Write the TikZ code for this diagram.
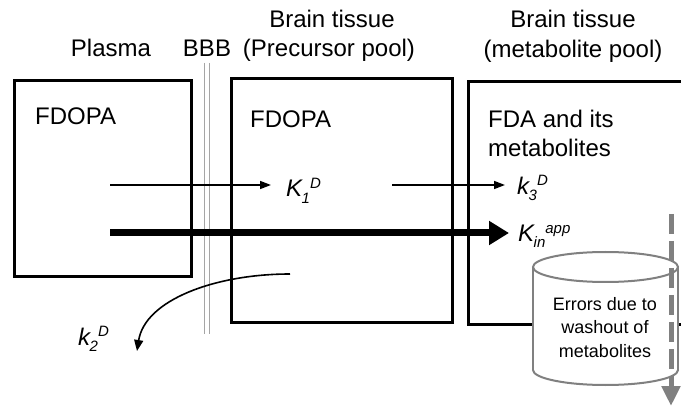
\documentclass[tikz,border=0pt]{standalone}
\usepackage{fontspec}
\setmainfont{Liberation Sans}
\usetikzlibrary{arrows.meta}
\definecolor{cylgray}{RGB}{128,128,128}
\definecolor{bbbgray}{RGB}{165,165,165}
\newcommand{\scriptfs}{\fontsize{15}{15}\selectfont}
\newcommand{\ratelbl}[3]{\textit{#1\kern-0.5pt\raisebox{-6pt}{\scriptfs #2}\raisebox{9pt}{\scriptfs #3}}}
\begin{document}
\begin{tikzpicture}[x=1pt,y=-1pt,
  big/.style={font=\fontsize{24}{29}\selectfont, inner sep=0pt},
  box/.style={draw=black, line width=3pt, fill=none, inner sep=0pt},
  thinarrow/.style={line width=1.6pt, -{Triangle[length=11pt,width=8pt]}},
  thickarrow/.style={line width=7pt, -{Triangle[length=20pt,width=23pt]}},
  bbb/.style={draw=bbbgray, line width=1.8pt},
  cyl/.style={draw=cylgray, line width=2pt},
  washout/.style={draw=cylgray, line width=5pt, dash pattern=on 20pt off 7pt, -{Triangle[length=20pt,width=18pt]}}]
\useasboundingbox (0,0) rectangle (681,409);
\clip (0,0) rectangle (681,409);
\fill[white] (0,0) rectangle (681,409);

% boxes
\node[box, minimum width=177pt, minimum height=196pt] (plasmabox) at (102.5,179) {};
\node[box, minimum width=221pt, minimum height=243pt] (precbox) at (341.5,200.5) {};
\node[box, minimum width=252pt, minimum height=242pt] (metabox) at (594,203) {};

% headings
\node[big, anchor=base] (plasma) at (111,57) {Plasma};
\node[big, anchor=base] (bbblbl) at (207,57) {BBB};
\node[big, anchor=base] (bt1) at (332,28) {Brain tissue};
\node[big, anchor=base] (pp) at (329,57) {(Precursor pool)};
\node[big, anchor=base] (bt2) at (573,28) {Brain tissue};
\node[big, anchor=base] (mp) at (573,58) {(metabolite pool)};

% box contents
\node[big, anchor=base west] (fd1) at (35,125) {FDOPA};
\node[big, anchor=base west] (fd2) at (250,128) {FDOPA};
\node[big, anchor=base west] (fda) at (488,128) {FDA and its};
\node[big, anchor=base west] (fdb) at (488,157) {metabolites};

% BBB
\coordinate (b1t) at (204.5,63); \coordinate (b1b) at (204.5,334);
\coordinate (b2t) at (209.5,63); \coordinate (b2b) at (209.5,334);
\draw[bbb] (b1t) -- (b1b);
\draw[bbb] (b2t) -- (b2b);

% rate labels
\node[big, anchor=base west] (k1) at (286,197) {\ratelbl{K}{1}{D}};
\node[big, anchor=base west] (k3) at (517,195) {\ratelbl{k}{3}{D}};
\node[big, anchor=base west] (kin) at (518,242) {\ratelbl{K}{in}{app}};
\node[big, anchor=base west] (k2) at (78,345) {\ratelbl{k}{2}{D}};

% arrows
\coordinate (a1s) at (110,185); \coordinate (a1e) at (271,185);
\coordinate (a3s) at (392,185); \coordinate (a3e) at (505,185);
\coordinate (ats) at (110,233); \coordinate (ate) at (509,233);
\coordinate (c2s) at (290,274); \coordinate (c2e) at (137,351);
\draw[thinarrow] (a1s) -- (a1e);
\draw[thinarrow] (a3s) -- (a3e);
\draw[thickarrow] (ats) -- (ate);
\draw[line width=1.6pt, -{Triangle[length=11pt,width=9pt]}] (c2s) .. controls (215,274) and (145,300) .. (c2e);

% cylinder
\filldraw[cyl, fill=white] (605.5,370) ellipse [x radius=72.5, y radius=15];
\fill[white] (533,267) rectangle (678,370);
\draw[cyl] (533,267) -- (533,370);
\draw[cyl] (678,267) -- (678,370);
\filldraw[cyl, fill=white] (605.5,267) ellipse [x radius=72.5, y radius=15];
\node[font=\fontsize{18}{23.5}\selectfont, align=center, inner sep=0pt, anchor=base] (err) at (605,357)
  {Errors due to\\washout of\\metabolites};

% washout arrow
\coordinate (ws) at (671,214); \coordinate (we) at (671,406);
\draw[washout] (ws) -- (we);
\end{tikzpicture}
\end{document}
